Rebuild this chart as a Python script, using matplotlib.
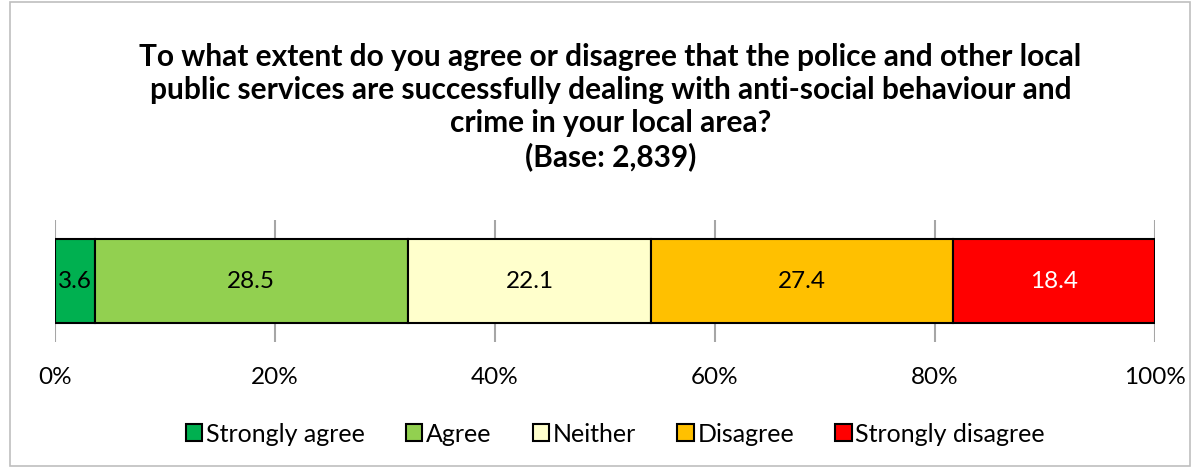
import matplotlib.pyplot as plt
from matplotlib.patches import Rectangle

# Datos del gráfico
categorias = ['Strongly agree', 'Agree', 'Neither', 'Disagree', 'Strongly disagree']
valores = [3.6, 28.5, 22.1, 27.4, 18.4]
colores = ['#00b050', '#92d050', '#ffffcc', '#ffc000', '#ff0000']
color_texto = ['black', 'black', 'black', 'black', 'white']
ticks = [0, 20, 40, 60, 80, 100]

plt.rcParams['font.family'] = ['Lato', 'DejaVu Sans']

fig = plt.figure(figsize=(12.02, 4.68), dpi=100)
ax = fig.add_axes([55 / 1202, 1 - 342 / 468, 1100 / 1202, 122 / 468])

# Barra apilada
izquierda = 0
for cat, val, col, tc in zip(categorias, valores, colores, color_texto):
    ax.barh(0, val, left=izquierda, height=0.69, color=col, edgecolor='black',
            linewidth=1.5, label=cat, zorder=3)
    ax.text(izquierda + val / 2, 0, f'{val}', ha='center', va='center',
            fontsize=17.5, color=tc, zorder=4)
    izquierda += val

ax.set_xlim(0, 100)
ax.set_ylim(-0.5, 0.5)
ax.set_xticks(ticks)
ax.set_xticklabels([f'{t}%' for t in ticks], fontsize=17.5)
ax.set_yticks([])
ax.tick_params(axis='x', length=0, pad=18)
for s in ax.spines.values():
    s.set_visible(False)
ax.grid(True, axis='x', color='#a6a6a6', linewidth=1.5, zorder=0)

# Título
fig.text(0.508, 1 - 107 / 468,
         'To what extent do you agree or disagree that the police and other local\n'
         'public services are successfully dealing with anti-social behaviour and\n'
         'crime in your local area?\n(Base: 2,839)',
         ha='center', va='center', fontsize=21.5, fontweight='bold',
         linespacing=1.22)

# Leyenda
fig.legend(loc='center', bbox_to_anchor=(0.512, 1 - 434 / 468), ncol=5,
           frameon=False, fontsize=18, handlelength=0.65, handleheight=0.65,
           handletextpad=0.15, columnspacing=1.65)

# Borde de la figura
fig.patches.append(Rectangle((10 / 1202, 2 / 468), 1180 / 1202, 464 / 468,
                             transform=fig.transFigure, fill=False,
                             edgecolor='#bfbfbf', linewidth=1.2))

fig.savefig('out.png', dpi=100)
